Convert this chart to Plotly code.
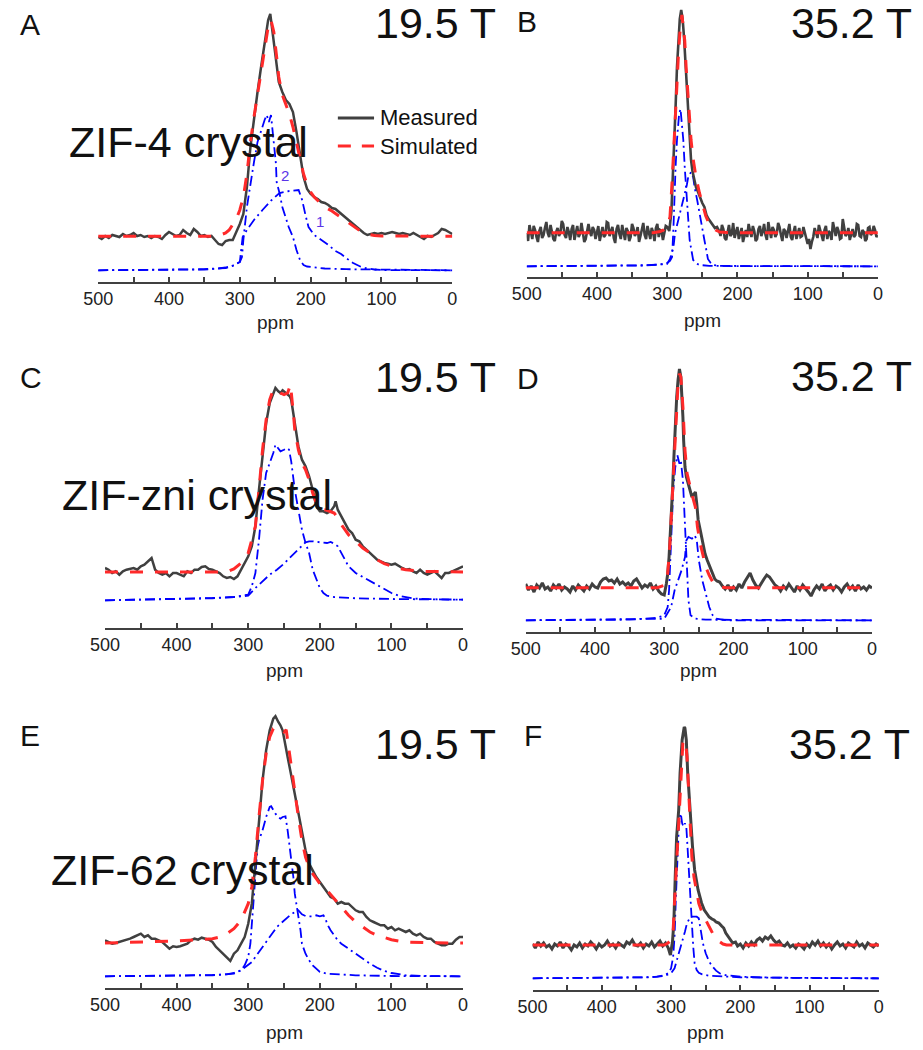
import plotly.graph_objects as go

W, H = 923, 1050
FONT = "Liberation Sans, Arial, sans-serif"

# ---------------- data: (ppm, intensity a.u.) ----------------
# Panel A: ZIF-4 crystal, 19.5 T
A_meas = [(500,45),(495,43),(490,46),(485,44),(480,47),(475,46),(470,45),(465,48),(460,46),(455,47),(450,49),(445,46),(440,47),(435,45),(430,46),(425,44),(420,46),(415,45),(410,43),(405,47),(400,50),(395,48),(390,46),(385,47),(380,52),(375,49),(370,47),(365,53),(360,50),(355,46),(350,47),(345,45),(340,46),(335,42),(330,38),(325,37),(320,41),(315,42),(310,42),(305,50),(300,58),(295,68),(290,95),(285,135),(280,165),(275,190),(270,215),(265,240),(260,262),(257,268),(254,250),(250,224),(245,200),(240,190),(235,182),(230,178),(225,170),(220,150),(215,128),(210,105),(205,93),(200,88),(195,85),(190,83),(185,80),(180,79),(175,77),(170,74),(165,73),(160,70),(155,67),(150,64),(145,61),(140,58),(135,55),(130,52),(125,49),(120,47),(115,48),(110,49),(105,48),(100,49),(95,48),(90,49),(85,50),(80,49),(75,48),(70,49),(65,48),(60,47),(55,49),(50,47),(45,45),(40,43),(35,46),(30,45),(25,47),(20,49),(15,53),(10,52),(5,50),(0,48)]
A_sim = [(500,45.7),(340,45.7),(330,46.5),(320,49),(315,52),(310,57),(305,63),(300,72),(295,85),(290,108),(285,140),(280,165),(275,188),(270,210),(265,235),(260,255),(256,262),(252,250),(248,225),(245,205),(240,187),(235,178),(230,168),(225,155),(220,140),(215,123),(210,108),(205,97),(200,90),(195,85),(190,81),(185,78),(180,75),(170,71),(160,66),(150,61),(140,56),(130,51),(120,48),(110,46.5),(100,46),(0,45.7)]
A_site1 = [(500,11.7),(450,11.8),(400,12),(350,12.5),(330,13.5),(320,14.5),(310,16.5),(305,18),(300,20),(297,25),(295,42),(290,75),(285,100),(280,120),(275,140),(270,152),(265,162),(262,167),(259,160),(256,167),(252,140),(249,118),(248,100),(244,89),(240,75),(235,64),(231,55),(225,45),(220,32),(215,22),(210,17),(205,15.5),(200,15),(180,13.5),(150,12.8),(100,12.2),(50,11.9),(0,11.7)]
A_site2 = [(500,11.7),(400,12),(350,12.8),(320,14),(310,16),(300,20),(296,45),(290,52),(280,62),(268,72),(255,82),(244,89),(230,91),(217,92),(212,82),(207,66),(203,55),(195,47),(185,42),(175,37),(165,31),(157,28),(150,24),(140,19),(130,15.5),(120,13.5),(110,12.5),(100,12),(0,11.7)]

# Panel B: ZIF-4 crystal, 35.2 T
B_meas = [(500,44),(498,36),(496,52),(494,45),(492,38),(490,51),(488,47),(486,40),(484,35),(482,46),(480,50),(478,39),(476,42),(474,49),(472,55),(470,44),(468,40),(466,52),(464,46),(462,38),(460,36),(458,45),(456,49),(454,41),(452,44),(450,56),(448,53),(446,42),(444,39),(442,50),(440,45),(438,37),(436,48),(434,52),(432,37),(430,43),(428,51),(426,40),(424,43),(422,54),(420,46),(418,35),(416,38),(414,47),(412,53),(410,45),(408,41),(406,50),(404,47),(402,38),(400,44),(398,51),(396,36),(394,43),(392,50),(390,40),(388,42),(386,55),(384,54),(382,41),(380,45),(378,50),(376,39),(374,34),(372,48),(370,52),(368,43),(366,38),(364,52),(362,46),(360,37),(358,49),(356,46),(354,36),(352,40),(350,53),(348,49),(346,41),(344,44),(342,50),(340,35),(338,41),(336,47),(334,54),(332,42),(330,38),(328,51),(326,45),(324,38),(322,49),(320,45),(318,36),(316,49),(314,53),(312,40),(310,47),(308,46),(306,37),(304,43),(302,51),(300,50),
          (297,46),(294,65),(292,95),(290,125),(288,170),(286,210),(284,238),(282,258),(280,267),(278,258),(276,240),(274,215),(272,190),(270,160),(268,135),(266,117),(264,106),(262,98),(259,90),(256,85),(253,79),(250,74),(247,70),(244,62),(241,58),(238,55),(235,52),(232,49),(229,50),(226,46),
          (224,41),(222,52),(220,48),(218,39),(216,37),(214,46),(212,52),(210,41),(208,43),(206,54),(204,39),(202,45),(200,50),(198,38),(196,44),(194,49),(192,35),(190,42),(188,47),(186,40),(184,53),(182,46),(180,40),(178,51),(176,46),(174,36),(172,38),(170,48),(168,51),(166,41),(164,45),(162,53),(160,42),(158,37),(156,55),(154,47),(152,39),(150,50),(148,47),(146,40),(144,43),(142,54),(140,50),(138,42),(136,36),(134,48),(132,46),(130,39),(128,48),(126,53),(124,40),(122,37),(120,45),(118,51),(116,38),(114,44),(112,49),(110,40),(108,41),(106,50),(104,44),(102,36),(100,33),(98,38),(96,28),(94,35),(92,40),(90,49),(88,45),(86,39),(84,52),(82,47),(80,43),(78,36),(76,47),(74,51),(72,38),(70,46),(68,44),(66,37),(64,55),(62,48),(60,41),(58,50),(56,46),(54,38),(52,39),(50,58),(48,50),(46,41),(44,43),(42,49),(40,37),(38,44),(36,48),(34,40),(32,42),(30,53),(28,52),(26,41),(24,40),(22,47),(20,45),(18,36),(16,38),(14,49),(12,50),(10,42),(8,44),(6,51),(4,47),(2,40),(0,42)]
B_sim = [(500,44.3),(320,44.3),(310,45.5),(305,47),(300,50),(296,60),(293,95),(291,127),(288,165),(286,193),(284,222),(282,243),(279,262),(277,252),(275,237),(273,210),(270,180),(268,158),(266,137),(263,118),(259,100),(254,84),(249,70),(245,61),(240,53),(235,49),(231,47),(225,45),(215,44.5),(200,44.3),(0,44.3)]
B_site1 = [(500,10.7),(400,11),(330,11.5),(310,12.5),(300,14),(296,16),(293,20),(291,50),(290,77),(288,110),(286,137),(284,153),(283,163),(281,168),(279,155),(277,137),(275,110),(272,77),(270,55),(268,37),(265,25),(263,17),(258,13.5),(254,12),(240,11.2),(200,10.9),(0,10.7)]
B_site2 = [(500,10.7),(400,11),(330,11.8),(310,12.5),(300,13),(296,18),(291,30),(289,43),(283,60),(277,77),(272,92),(270,100),(266,105),(263,100),(261,90),(257,76),(254,63),(250,50),(247,37),(244,26),(242,18),(238,14),(235,12),(225,11.2),(200,11),(0,10.7)]

# Panel C: ZIF-zni crystal, 19.5 T
C_meas = [(500,60),(495,58.3),(490,55),(485,56.7),(480,53.3),(475,56.7),(470,58.3),(465,59),(460,60),(455,58.3),(450,61.7),(445,63.3),(440,66.7),(435,70),(430,58.3),(425,55),(420,53.3),(415,55),(410,51.7),(405,55),(400,55),(395,53.3),(390,51.7),(385,56.7),(380,55),(375,58.3),(370,58.3),(365,61),(360,61.7),(355,59),(350,58.3),(345,56.7),(340,55),(335,51.7),(330,50),(325,51),(320,49),(315,51.7),(310,58.3),(305,65),(300,71.7),(295,81.7),(290,101.7),(285,138.3),(280,175),(275,205),(270,225),(265,235),(262,240),(258,236.7),(255,235),(252,237.7),(248,235),(245,233.3),(242,231.7),(240,228.3),(237,215),(235,201.7),(230,181.7),(225,168.3),(220,161.7),(215,151.7),(210,138.3),(205,121.7),(200,116.7),(195,116.7),(190,115),(185,116.7),(180,121.7),(178,126.7),(175,118.3),(170,111.7),(165,105),(160,98.3),(155,95),(150,88.3),(145,86.7),(140,81.7),(135,78.3),(130,75),(125,71.7),(120,68.3),(115,66.7),(110,65),(105,64.3),(100,63.3),(95,64.3),(90,61.7),(85,60),(80,58.3),(75,59),(70,56.7),(65,55),(60,58.3),(55,55),(50,53.3),(45,55),(40,56.7),(35,53.3),(30,50),(25,55),(20,55),(15,56.7),(10,58.3),(5,60.7),(0,61.7)]
C_sim = [(500,56),(330,56),(320,59),(310,65),(300,75),(290,101.7),(285,138.3),(280,178.3),(275,208.3),(270,228.3),(265,238.3),(260,238.3),(255,235),(250,233.3),(245,235),(241,243.3),(237,215),(235,198.3),(230,178.3),(225,165),(220,158.3),(215,148.3),(210,135),(205,125),(200,120),(195,118.3),(190,117.7),(185,116.7),(180,115),(175,110),(170,103.3),(165,98.3),(160,93.3),(150,86.7),(140,80),(130,75),(120,68.3),(110,64.3),(100,61.7),(90,59.7),(80,58.3),(70,57.3),(60,56.7),(0,56)]
C_site1 = [(500,27.7),(400,29),(350,30),(320,31),(300,33.3),(295,41.7),(290,55),(285,88.3),(280,128.3),(275,155),(270,165),(265,175),(262,183.3),(258,180),(255,176.7),(250,178.3),(246,180),(243,178.3),(240,166.7),(235,138.3),(230,118.3),(225,98.3),(220,85),(215,75),(210,58.3),(205,48.3),(200,40),(195,35),(190,32.3),(180,31),(150,29.7),(100,29),(0,28.3)]
C_site2 = [(500,27.7),(400,28.7),(350,29.7),(320,31),(300,32.3),(290,40),(280,46.7),(270,53.3),(260,58.3),(250,64.3),(240,71.7),(230,78.3),(220,85.7),(215,86.7),(210,86.7),(200,85.7),(190,85),(185,86),(180,84.3),(175,81.7),(170,75),(165,68.3),(160,61.7),(150,55),(140,51),(130,46.7),(120,42.3),(110,38.3),(100,35),(90,32.3),(80,30.7),(70,29.7),(60,29),(0,28.3)]

# Panel D: ZIF-zni crystal, 35.2 T
D_meas = [(500,48),(496,42),(492,46),(488,40),(484,47),(480,44),(476,49),(472,43),(468,45),(464,41),(460,47),(456,44),(452,48),(448,42),(444,45),(440,43),(436,40),(432,46),(428,42),(424,47),(420,44),(416,41),(412,46),(408,43),(404,48),(400,45),(396,44),(392,50),(388,53),(384,54),(380,51),(376,52),(372,49),(368,53),(364,48),(360,50),(356,47),(352,49),(348,46),(344,51),(340,53),(336,48),(332,44),(328,47),(324,45),(320,49),(316,43),(312,46),(308,41),(304,38),(300,37),
          (297,48),(295,58),(293,75),(290,110),(288,142),(286,175),(284,208),(282,235),(280,252),(278,263),(276,255),(275,245),(273,215),(272,192),(270,165),(268,155),(265,148),(262,140),(260,135),(257,138),(255,140),(253,128),(251,112),(248,102),(246,95),(243,85),(241,78),(238,72),(234,65),(230,58),(227,53),(224,51),(220,50),
          (216,46),(212,43),(208,47),(204,41),(200,45),(196,42),(192,48),(188,44),(184,50),(180,55),(176,59),(172,52),(168,47),(164,44),(160,49),(156,53),(152,57),(148,55),(144,51),(140,47),(136,45),(132,41),(128,46),(124,43),(120,48),(116,44),(112,40),(108,46),(104,42),(100,47),(96,44),(92,40),(88,36),(84,42),(80,46),(76,43),(72,48),(68,41),(64,45),(60,47),(56,42),(52,46),(48,44),(44,40),(40,45),(36,48),(32,43),(28,46),(24,41),(20,47),(16,43),(12,45),(8,42),(4,46),(0,44)]
D_sim = [(500,44.3),(310,44.3),(300,46.7),(295,58.3),(292,85),(289,125),(286,175),(283,215),(280,248.3),(278,258.3),(276,255),(273,225),(270,181.7),(267,158.3),(263,145),(259,135),(255,125),(252,105),(248,88.3),(244,75),(240,65),(235,56.7),(230,50),(225,46.7),(220,45),(210,44.3),(0,44.3)]
D_site1 = [(500,11.7),(350,12.3),(310,14.3),(300,16.7),(295,25),(293,41.7),(290,91.7),(287,141.7),(284,165),(281,176.7),(278,168.3),(276,171.7),(273,151.7),(270,108.3),(268,85),(265,31.7),(262,16.7),(255,13.3),(240,12.3),(0,11.7)]
D_site2 = [(500,11.7),(300,13.3),(290,25),(285,41.7),(280,51.7),(275,61.7),(270,75),(268,91.7),(265,95),(260,93.3),(256,96.7),(253,91.7),(250,71.7),(245,51.7),(240,38.3),(235,25),(230,16.7),(225,13.3),(210,11.7),(0,11.7)]

# Panel E: ZIF-62 crystal, 19.5 T
E_meas = [(500,47.7),(495,46),(490,44.3),(485,45),(480,46),(475,47),(470,47.7),(465,49.3),(460,51),(455,52.7),(450,54.3),(445,51),(440,52.7),(435,49.3),(430,49.3),(425,47.7),(420,46),(415,42.7),(410,39.3),(405,41.7),(400,41),(395,41.7),(390,42.7),(385,44.3),(380,47.7),(375,49.3),(370,48.3),(365,50.3),(360,49.3),(355,48.3),(350,46),(345,41),(340,37.7),(335,34.3),(330,31),(325,27),(320,34.3),(315,37.7),(310,44.3),(305,51),(300,64.3),(295,84.3),(290,124.3),(285,164.3),(280,207.7),(275,237.7),(270,257.7),(265,269.3),(262,271.7),(258,266),(255,262.7),(252,257.7),(250,251),(245,231),(240,212.7),(235,194.3),(230,174.3),(225,154.3),(220,137.7),(215,124.3),(210,117.7),(205,111),(200,106),(195,101),(190,96),(185,91),(180,89.3),(175,84.3),(170,86),(165,84.3),(160,84.3),(155,81),(150,77.7),(145,76),(140,76),(135,71),(130,67.7),(125,66),(120,64.3),(115,62.7),(110,62.7),(105,59.3),(100,61),(95,57.7),(90,59.3),(85,57.7),(80,56),(75,57.7),(70,54.3),(65,52.7),(60,54.3),(55,51),(50,49.3),(45,49.3),(40,46),(35,44.3),(30,42.7),(25,42.7),(20,44.3),(15,44.3),(10,48.3),(5,51),(0,51)]
E_sim = [(500,45),(450,46),(400,47),(350,49.3),(340,51),(330,54.3),(320,59.3),(310,67.7),(300,84.3),(295,101),(290,131),(285,171),(280,207.7),(275,234.3),(270,251),(265,259.3),(260,261),(255,259.3),(250,256),(247,258.3),(245,247.7),(242,234.3),(240,221),(235,197.7),(230,171),(225,147.7),(220,131),(215,121),(210,114.3),(205,109.3),(200,104.3),(190,97.7),(180,89.3),(170,81),(160,72.7),(150,66),(140,61),(130,56),(120,52.7),(110,50.3),(100,48.3),(90,47),(80,46),(50,45.3),(0,45)]
E_site1 = [(500,11.7),(400,12),(350,12.7),(320,14.3),(310,17.7),(305,22.7),(300,31),(297,44.3),(295,64.3),(293,91),(290,117.7),(287,141),(285,147.7),(280,157.7),(275,171),(270,181),(268,181.7),(265,177.7),(262,174.3),(258,171),(255,169.3),(252,171),(248,171.7),(245,157.7),(242,141),(240,131),(237,111),(235,94.3),(232,81),(230,71),(227,57.7),(225,44.3),(220,34.3),(215,27.7),(210,22.7),(205,19.3),(200,16),(190,14.3),(170,13.3),(150,12.7),(100,12),(0,11.7)]
E_site2 = [(500,11.7),(400,12.3),(350,13),(330,13.7),(320,15),(310,17.7),(300,22.7),(295,26),(290,31),(285,36),(280,41),(275,46),(270,51),(265,56),(260,61),(255,64.3),(250,67.7),(245,71),(240,73.7),(235,76),(230,77.7),(225,73.7),(220,72),(215,71.7),(210,71.7),(205,72.7),(200,71.7),(195,72.7),(192,69.3),(190,64.3),(185,57.7),(180,52.7),(175,47.7),(170,44.3),(160,39.3),(150,34.3),(140,29.3),(130,24.3),(120,20.3),(110,17),(100,15),(90,13.7),(80,12.7),(50,12),(0,11.7)]

# Panel F: ZIF-62 crystal, 35.2 T
F_meas = [(500,46),(496,42),(492,48),(488,44),(484,47),(480,43),(476,45),(472,41),(468,46),(464,44),(460,48),(456,42),(452,46),(448,44),(444,40),(440,45),(436,43),(432,47),(428,42),(424,46),(420,44),(416,48),(412,45),(408,41),(404,46),(400,43),(396,45),(392,49),(388,44),(384,46),(380,42),(376,47),(372,45),(368,43),(364,48),(360,46),(356,50),(352,45),(348,44),(344,47),(340,42),(336,46),(332,44),(328,48),(324,43),(320,46),(316,49),(312,44),(308,47),(304,42),
          (301,35),(298,48),(296,67),(294,113),(292,153),(289,180),(287,217),(284,250),(281,263),(280,262),(278,250),(276,217),(273,183),(269,143),(266,120),(261,100),(256,87),(252,80),(248,76),(245,73),(241,71),(238,70),(235,68),(231,67),(227,64),(224,62),(221,57),(219,55),(215,50),(211,47),(207,48),
          (204,44),(200,46),(196,42),(192,47),(188,44),(184,48),(180,45),(176,50),(172,52),(168,49),(164,53),(160,51),(156,54),(152,50),(148,47),(144,49),(140,45),(136,44),(132,47),(128,43),(124,45),(120,42),(116,46),(112,44),(108,41),(104,46),(100,43),(96,48),(92,45),(88,49),(84,44),(80,47),(76,43),(72,46),(68,41),(64,45),(60,48),(56,44),(52,46),(48,42),(44,47),(40,45),(36,43),(32,48),(28,44),(24,46),(20,42),(16,47),(12,45),(8,43),(4,46),(0,44)]
F_sim = [(500,45),(310,45),(305,46.7),(300,50),(297,60),(294,100),(291,150),(288,193.3),(285,233.3),(283,246.7),(281,250),(279,246.7),(277,233.3),(275,200),(272,160),(270,133.3),(267,113.3),(264,100),(260,86.7),(255,76.7),(250,70),(245,63.3),(240,56.7),(235,51.7),(230,48.3),(225,46),(220,45),(0,45)]
F_site1 = [(500,11.7),(400,12),(340,12.7),(320,13.3),(310,14.7),(303,17.3),(300,21.7),(297,33.3),(295,53.3),(293,93.3),(291,133.3),(289,160),(287,175),(286,176.7),(284,166.7),(282,163.3),(280,166.7),(278,163.3),(276,140),(274,113.3),(272,93.3),(270,66.7),(268,43.3),(266,26.7),(263,20),(260,17.3),(255,15.7),(245,14.3),(200,12.7),(100,12),(0,11.7)]
F_site2 = [(500,11.7),(400,12),(330,12.7),(310,14),(300,16.7),(295,21.7),(290,33.3),(285,46.7),(280,58.3),(277,66.7),(274,71.7),(272,73.3),(268,73.3),(263,73.3),(260,71.7),(257,60),(254,46.7),(250,36.7),(245,28.3),(240,23.3),(235,19.3),(230,16.7),(220,14.7),(200,13.3),(150,12.3),(0,11.7)]

PANELS = {
    "A": dict(meas=A_meas, sim=A_sim, sites=[A_site1, A_site2]),
    "B": dict(meas=B_meas, sim=B_sim, sites=[B_site1, B_site2]),
    "C": dict(meas=C_meas, sim=C_sim, sites=[C_site1, C_site2]),
    "D": dict(meas=D_meas, sim=D_sim, sites=[D_site1, D_site2]),
    "E": dict(meas=E_meas, sim=E_sim, sites=[E_site1, E_site2]),
    "F": dict(meas=F_meas, sim=F_sim, sites=[F_site1, F_site2]),
}
TICKS = [500, 400, 300, 200, 100, 0]
FIELDS = {"A": "19.5 T", "B": "35.2 T", "C": "19.5 T", "D": "35.2 T", "E": "19.5 T", "F": "35.2 T"}
SAMPLES = {"A": "ZIF-4 crystal", "C": "ZIF-zni crystal", "E": "ZIF-62 crystal"}

# ---------------- layout geometry (pixels) ----------------
GEOM = {  # x of 500 ppm, x of 0 ppm, y of axis line, y of "ppm" label
    "A": (85, 447, 282, 322), "B": (523, 882, 277, 320),
    "C": (92, 458, 628, 670), "D": (522, 876, 632, 670),
    "E": (92, 458, 988, 1032), "F": (529, 883, 990, 1032),
}
YSPAN = 275
MEAS_WIDTH = {"A": 2.5, "B": 2.6, "C": 2.5, "D": 3, "E": 2.5, "F": 3}

MEAS_COLOR = "#404040"
SIM_COLOR = "#ff2a2a"
SITE_COLOR = "#0000ff"

fig = go.Figure()
layout = dict(width=W, height=H, margin=dict(l=0, r=0, t=0, b=0),
              paper_bgcolor="white", plot_bgcolor="white", showlegend=False,
              font=dict(family=FONT, color="#111"))
annotations = []
shapes = []

def px(x):
    return x / W

def py(y):
    return 1 - y / H

for i, key in enumerate(["A", "B", "C", "D", "E", "F"]):
    n = "" if i == 0 else str(i + 1)
    xa, ya = "x" + n, "y" + n
    x0, x1, base, ppm_y = GEOM[key]
    layout["xaxis" + n] = dict(
        domain=[px(x0), px(x1)], range=[500, 0], anchor=ya,
        showline=True, linecolor=MEAS_COLOR, linewidth=1.5, mirror=False,
        ticks="inside", ticklen=5, tickwidth=1.5, tickcolor=MEAS_COLOR,
        tickvals=TICKS, ticktext=[str(t) for t in TICKS],
        tickfont=dict(size=18, color="#222", family=FONT),
        minor=dict(ticks="inside", ticklen=5, tickwidth=1.5, tickcolor=MEAS_COLOR, dtick=50, showgrid=False),
        showgrid=False, zeroline=False, fixedrange=True)
    layout["yaxis" + n] = dict(
        domain=[py(base), py(base - YSPAN)], range=[0, YSPAN], anchor=xa,
        visible=False, showgrid=False, zeroline=False, fixedrange=True)

    d = PANELS[key]
    for site in d["sites"]:
        fig.add_trace(go.Scatter(x=[p for p, v in site], y=[v for p, v in site], mode="lines",
                                 line=dict(color=SITE_COLOR, width=1.8, dash="10px,4px,2px,4px"),
                                 xaxis=xa, yaxis=ya))
    fig.add_trace(go.Scatter(x=[p for p, v in d["meas"]], y=[v for p, v in d["meas"]], mode="lines",
                             line=dict(color=MEAS_COLOR, width=MEAS_WIDTH[key]),
                             xaxis=xa, yaxis=ya))
    fig.add_trace(go.Scatter(x=[p for p, v in d["sim"]], y=[v for p, v in d["sim"]], mode="lines",
                             line=dict(color=SIM_COLOR, width=3, dash="13px,12px"), xaxis=xa, yaxis=ya))

    # ppm axis label
    annotations.append(dict(text="ppm", xref="paper", yref="paper",
                            x=px((x0 + x1) / 2), y=py(ppm_y), xanchor="center", yanchor="middle",
                            showarrow=False, font=dict(size=19, color="#222", family=FONT)))

# panel letters
LETTER_POS = {"A": (3, 24), "B": (511, 22), "C": (3, 377), "D": (511, 378), "E": (3, 735), "F": (518, 735)}
for k, (x, y) in LETTER_POS.items():
    annotations.append(dict(text=k, xref="paper", yref="paper", x=px(x), y=py(y),
                            xanchor="left", yanchor="middle", showarrow=False,
                            font=dict(size=30, color="#111", family=FONT)))
# field labels (box trimmed to the glyph height so it stays inside the page)
FIELD_POS = {"A": (494, 23), "B": (919, 23), "C": (494, 377), "D": (919, 376), "E": (494, 744), "F": (917, 744)}
for k, (x, y) in FIELD_POS.items():
    annotations.append(dict(text=FIELDS[k], xref="paper", yref="paper", x=px(x), y=py(y),
                            xanchor="right", yanchor="middle", showarrow=False, height=38, valign="middle",
                            font=dict(size=43, color="#111", family=FONT)))
# site labels in panel A
for t, (x, y) in {"2": (276, 176), "1": (312, 222)}.items():
    annotations.append(dict(text=t, xref="paper", yref="paper", x=px(x), y=py(y),
                            xanchor="center", yanchor="middle", showarrow=False,
                            font=dict(size=15, color="#5a35e8", family=FONT)))
# sample names
SAMPLE_POS = {"A": (53, 142), "C": (46, 495), "E": (35, 870)}
for k, (x, y) in SAMPLE_POS.items():
    annotations.append(dict(text=SAMPLES[k], xref="paper", yref="paper", x=px(x), y=py(y),
                            xanchor="left", yanchor="middle", showarrow=False,
                            font=dict(size=43, color="#111", family=FONT)))

# legend (panel A)
shapes.append(dict(type="line", xref="paper", yref="paper", x0=px(330), x1=px(367), y0=py(118), y1=py(118),
                   line=dict(color=MEAS_COLOR, width=3)))
shapes.append(dict(type="line", xref="paper", yref="paper", x0=px(330), x1=px(367), y0=py(146), y1=py(146),
                   line=dict(color=SIM_COLOR, width=3, dash="13px,11px")))
for t, y in (("Measured", 118), ("Simulated", 146)):
    annotations.append(dict(text=t, xref="paper", yref="paper", x=px(371), y=py(y),
                            xanchor="left", yanchor="middle", showarrow=False,
                            font=dict(size=22, color="#111", family=FONT)))

layout["annotations"] = annotations
layout["shapes"] = shapes
fig.update_layout(**layout)
fig.write_html("out.html", config={"displayModeBar": False},
               post_script="document.body.style.margin='0';")
